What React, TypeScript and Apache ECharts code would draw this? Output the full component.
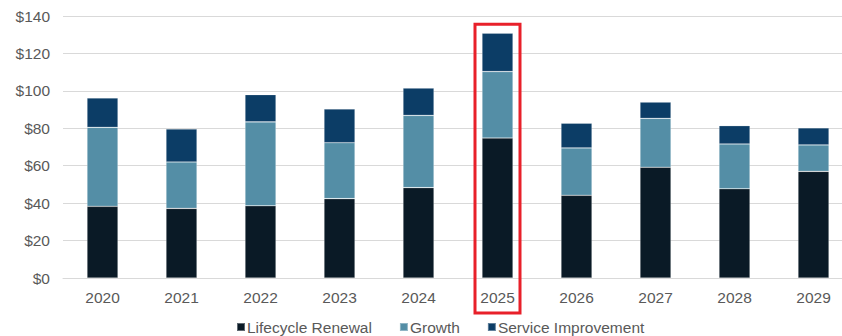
import React, { useEffect, useRef } from "react";
import * as echarts from "echarts";

const categories = ["2020", "2021", "2022", "2023", "2024", "2025", "2026", "2027", "2028", "2029"];
const lifecycleRenewal = [38.3, 37.2, 38.6, 42.4, 48.3, 74.8, 44.2, 59.2, 47.7, 57.0];
const growth = [42.2, 24.8, 44.8, 29.9, 38.6, 35.5, 25.3, 26.1, 23.9, 14.1];
const serviceImprovement = [15.7, 17.6, 14.6, 18.0, 14.6, 20.5, 13.2, 8.7, 9.8, 9.1];
const highlightYear = "2025";

const FONT = "'Liberation Sans', Arial, sans-serif";

export default function App() {
  const ref = useRef<HTMLDivElement>(null);
  useEffect(() => {
    document.body.style.margin = "0";
    document.body.style.overflow = "hidden";
    const chart = echarts.init(ref.current!, null, { renderer: "svg" });
    const mk = (name: string, data: number[], color: string) => ({
      name,
      type: "bar",
      stack: "total",
      data,
      barWidth: 31,
      itemStyle: { color, borderColor: "rgba(255,255,255,0.35)", borderWidth: 0.6 },
    });
    chart.setOption({
      animation: false,
      textStyle: { fontFamily: FONT },
      grid: { left: 63, right: 0, top: 16, bottom: 58 },
      legend: {
        left: 236,
        top: 318,
        itemWidth: 8,
        itemHeight: 8,
        itemGap: 27,
        icon: "rect",
        padding: 0,
        textStyle: { fontSize: 15.5, lineHeight: 18, color: "#595959", fontFamily: FONT, padding: [0, 0, 0, -3] },
        data: ["Lifecycle Renewal", "Growth", "Service Improvement"],
      },
      xAxis: {
        type: "category",
        data: categories,
        axisLine: { lineStyle: { color: "#d9d9d9", width: 1 } },
        axisTick: { show: false },
        axisLabel: { color: "#595959", fontSize: 15.5, margin: 11, fontFamily: FONT },
      },
      yAxis: {
        type: "value",
        min: 0,
        max: 140,
        interval: 20,
        axisLine: { show: false },
        axisTick: { show: false },
        splitLine: { lineStyle: { color: "#d9d9d9", width: 1 } },
        axisLabel: { color: "#595959", fontSize: 15.5, margin: 13, fontFamily: FONT, formatter: (v: number) => "$" + v },
      },
      series: [
        mk("Lifecycle Renewal", lifecycleRenewal, "#0a1a26"),
        mk("Growth", growth, "#548ea6"),
        mk("Service Improvement", serviceImprovement, "#0c3d66"),
      ],
    });
    const idx = categories.indexOf(highlightYear);
    const total = lifecycleRenewal[idx] + growth[idx] + serviceImprovement[idx];
    const top = chart.convertToPixel({ gridIndex: 0 }, [highlightYear, total]) as number[];
    const base = chart.convertToPixel({ gridIndex: 0 }, [highlightYear, 0]) as number[];
    const w = 45;
    chart.setOption({
      graphic: [
        {
          type: "rect",
          shape: { x: top[0] - w / 2, y: top[1] - 9, width: w, height: base[1] + 35 - (top[1] - 9) },
          style: { fill: "none", stroke: "#e8202a", lineWidth: 3 },
          z: 100,
        },
      ],
    });
    return () => chart.dispose();
  }, []);
  return <div ref={ref} style={{ width: 853, height: 336 }} />;
}
